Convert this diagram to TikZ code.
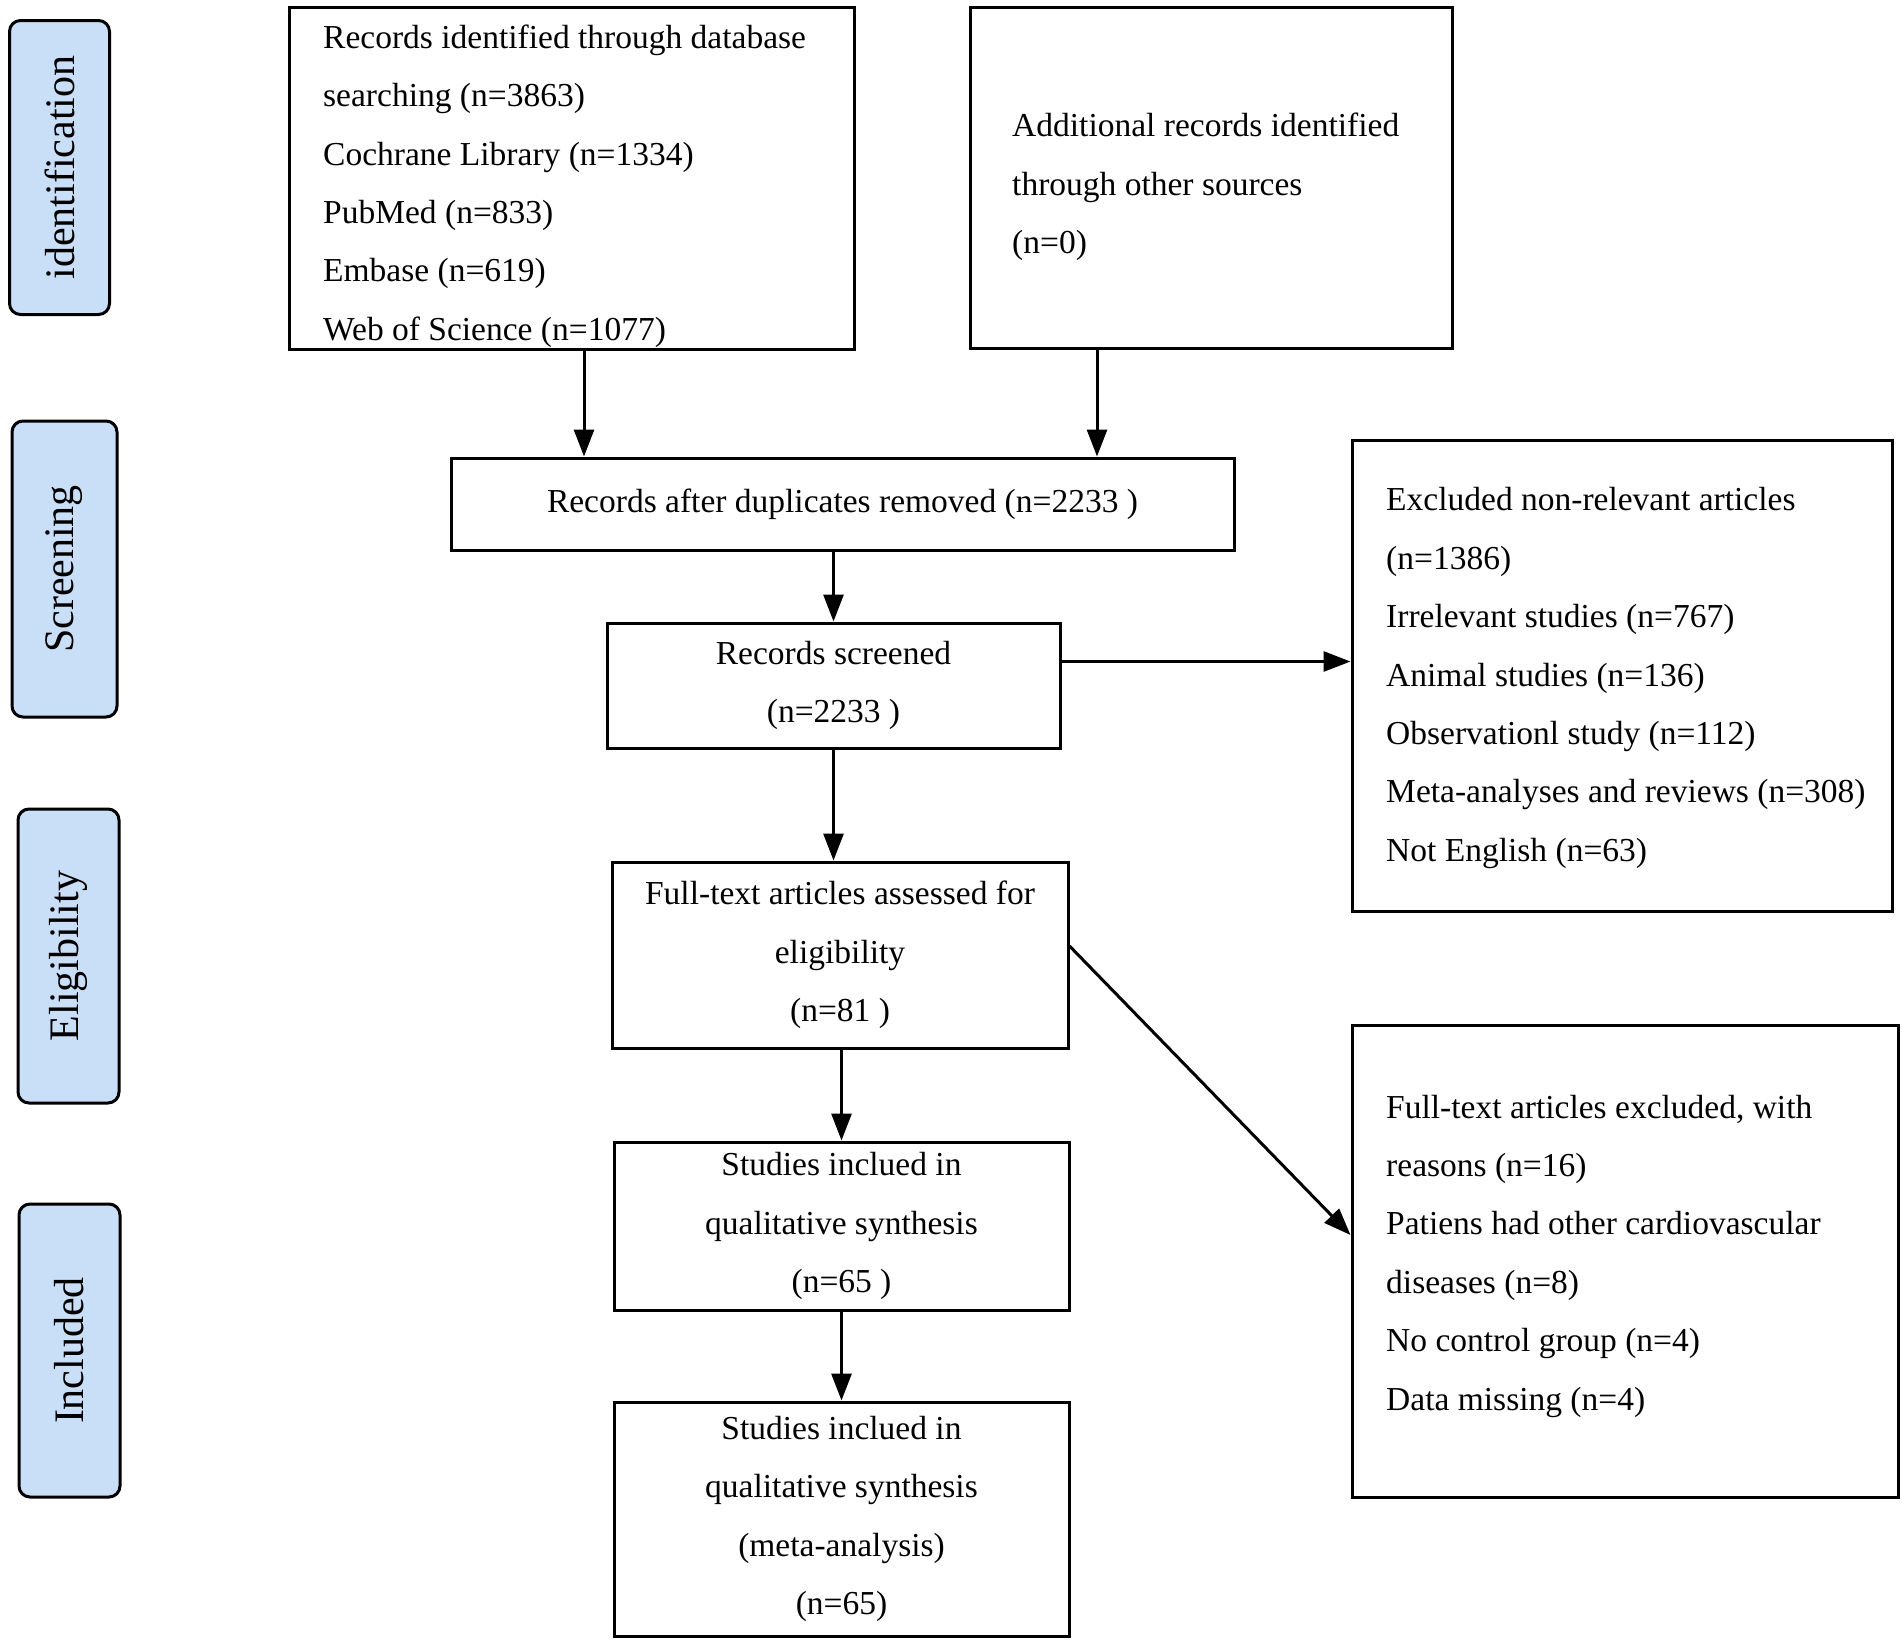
\documentclass[tikz,border=0pt]{standalone}
\usepackage{fontspec}
\setmainfont{Liberation Serif}
\usetikzlibrary{arrows.meta}
\definecolor{phase}{RGB}{201,222,247}
\begin{document}
\begin{tikzpicture}[x=1pt,y=-1pt,
  box/.style={draw=black, line width=3pt, rectangle, inner sep=0pt},
  phasebox/.style={draw=black, line width=3pt, fill=phase, rounded corners=11pt, inner sep=0pt},
  phasetxt/.style={rotate=90, inner sep=0pt, font=\fontsize{42}{50}\selectfont},
  txt/.style={font=\fontsize{33.5}{58.4}\selectfont, align=left, inner sep=0pt},
  ctxt/.style={font=\fontsize{33.5}{58.4}\selectfont, align=center},
  arr/.style={line width=3pt, -{Triangle[length=27pt,width=20pt]}}
]
\useasboundingbox[fill=white] (0,0) rectangle (1902,1641);

% phase labels
\node[phasebox, minimum width=100pt, minimum height=294pt] (p1) at (59.5,167.5) {};
\node[phasetxt] (p1t) at (p1) {identification};
\node[phasebox, minimum width=105pt, minimum height=296pt] (p2) at (64.5,569) {};
\node[phasetxt] (p2t) at (p2) {Screening};
\node[phasebox, minimum width=101pt, minimum height=294pt] (p3) at (68.5,956) {};
\node[phasetxt] (p3t) at (p3) {Eligibility};
\node[phasebox, minimum width=101pt, minimum height=293pt] (p4) at (69.5,1350.5) {};
\node[phasetxt] (p4t) at (p4) {Included};

% boxes with left aligned text
\node[box, minimum width=565pt, minimum height=342pt] (b1) at (571.5,178) {};
\node[txt, anchor=west] (t1) at (323,186) {Records identified through database\\searching (n=3863)\\Cochrane Library (n=1334)\\PubMed (n=833)\\Embase (n=619)\\Web of Science (n=1077)};

\node[box, minimum width=482pt, minimum height=341pt] (b2) at (1211,177.5) {};
\node[txt, anchor=west] (t2) at (1012,187) {Additional records identified\\through other sources\\(n=0)};

\node[box, minimum width=540pt, minimum height=471pt] (e1) at (1622,675.5) {};
\node[txt, anchor=west] (te1) at (1386,678) {Excluded non-relevant articles\\(n=1386)\\Irrelevant studies (n=767)\\Animal studies (n=136)\\Observationl study (n=112)\\Meta-analyses and reviews (n=308)\\Not English (n=63)};

\node[box, minimum width=546pt, minimum height=472pt] (e2) at (1625,1261) {};
\node[txt, anchor=west] (te2) at (1386,1256) {Full-text articles excluded, with\\reasons (n=16)\\Patiens had other cardiovascular\\diseases (n=8)\\No control group (n=4)\\Data missing (n=4)};

% centred boxes
\node[box, ctxt, minimum width=783pt, minimum height=92pt] (b3) at (842.5,504) {Records after duplicates removed (n=2233 )};
\node[box, ctxt, minimum width=453pt, minimum height=125pt] (b4) at (833.5,685.5) {Records screened\\(n=2233 )};
\node[box, ctxt, minimum width=456pt, minimum height=186pt] (b5) at (840,955) {Full-text articles assessed for\\eligibility\\(n=81 )};
\node[box, ctxt, minimum width=455pt, minimum height=168pt] (b6) at (841.5,1226) {Studies inclued in\\qualitative synthesis\\(n=65 )};
\node[box, ctxt, minimum width=455pt, minimum height=234pt] (b7) at (841.5,1519) {Studies inclued in\\qualitative synthesis\\(meta-analysis)\\(n=65)};

% connectors
\coordinate (xa) at (584,0);
\coordinate (xb) at (1097,0);
\coordinate (ya) at (0,661.5);
\coordinate (yb) at (0,1235);
\coordinate (yc) at (0,946);
\draw[arr] (b1.south -| xa) -- (b3.north -| xa);
\draw[arr] (b2.south -| xb) -- (b3.north -| xb);
\draw[arr] (b4.north |- b3.south) -- (b4.north);
\draw[arr] (b4.south) -- (b5.north -| b4.south);
\draw[arr] (b6.north |- b5.south) -- (b6.north);
\draw[arr] (b6.south) -- (b7.north);
\draw[arr] (b4.east |- ya) -- (e1.west |- ya);
\draw[arr] (b5.east |- yc) -- (e2.west |- yb);
\end{tikzpicture}
\end{document}
